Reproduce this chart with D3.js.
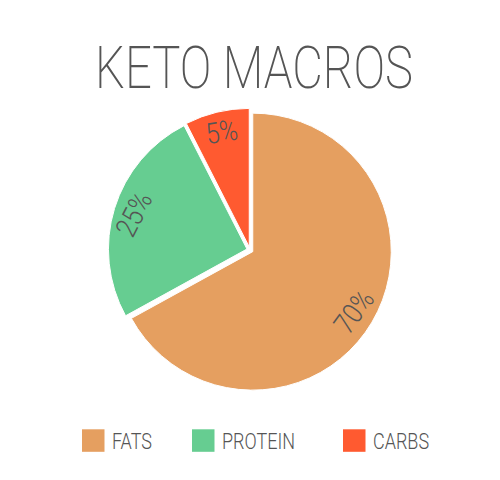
<!DOCTYPE html>
<html>
<head>
<meta charset="utf-8">
<script src="https://cdn.jsdelivr.net/npm/d3@7"></script>
<style>
  html, body { margin: 0; padding: 0; background: #fff; }
  svg { display: block; }
  text { font-family: Roboto, "Open Sans", sans-serif; font-weight: 300; fill: #555; }
  .title { font-weight: 200; }
</style>
</head>
<body>
<svg id="chart" width="500" height="480"></svg>
<script>
// Data
const title = "KETO MACROS";
const categories = ["FATS", "PROTEIN", "CARBS"];
const values = [67, 25.5, 7.5];
const labels = ["70%", "25%", "5%"];
const colors = ["#E59F60", "#66CD91", "#FF5A30"];

const cx = 250, cy = 250;
const R = 138.5;
const explode = 3.2;
const squeeze = 0.8;

const svg = d3.select("#chart");

// Title
svg.append("text")
  .attr("class", "title")
  .attr("transform", `translate(254,88) scale(0.8,1)`)
  .attr("text-anchor", "middle")
  .attr("font-size", 59)
  .text(title);

const pie = d3.pie().sort(null).value(d => d)(values);
// nominal percentages (from the label text) set the label orientation
const nominal = d3.pie().sort(null).value(d => d)(labels.map(s => parseFloat(s)));
const arc = d3.arc().innerRadius(0).outerRadius(R);
const labelArc = d3.arc().innerRadius(118).outerRadius(118);

const g = svg.append("g").attr("transform", `translate(${cx},${cy})`);

const slices = g.selectAll("g.slice").data(pie).join("g")
  .attr("class", "slice")
  .attr("transform", d => {
    const m = (d.startAngle + d.endAngle) / 2;
    return `translate(${Math.sin(m) * explode},${-Math.cos(m) * explode})`;
  });

slices.append("path")
  .attr("d", arc)
  .attr("fill", (d, i) => colors[i])
  .attr("stroke", "#fff")
  .attr("stroke-width", 1);

slices.append("text")
  .attr("transform", (d, i) => {
    const [x, y] = labelArc.centroid(d);
    const n = nominal[i];
    const m = (n.startAngle + n.endAngle) / 2 * 180 / Math.PI;
    let rot = (m > 90 && m < 270) ? m - 180 : (m >= 270 ? m - 360 : m);
    return `translate(${x},${y}) rotate(${rot}) scale(0.85,1)`;
  })
  .attr("text-anchor", "middle")
  .attr("dominant-baseline", "central")
  .attr("font-size", 29)
  .text((d, i) => labels[i]);

// Legend
const legendStarts = [82, 192, 343];
const sq = 22.5;
const leg = svg.append("g");
categories.forEach((c, i) => {
  leg.append("rect")
    .attr("x", legendStarts[i]).attr("y", 429.3)
    .attr("width", sq).attr("height", sq)
    .attr("fill", colors[i]);
  leg.append("text")
    .attr("transform", `translate(${legendStarts[i] + 30},449.3) scale(${squeeze},1)`)
    .attr("font-size", 22.5)
    .text(c);
});
</script>
</body>
</html>
